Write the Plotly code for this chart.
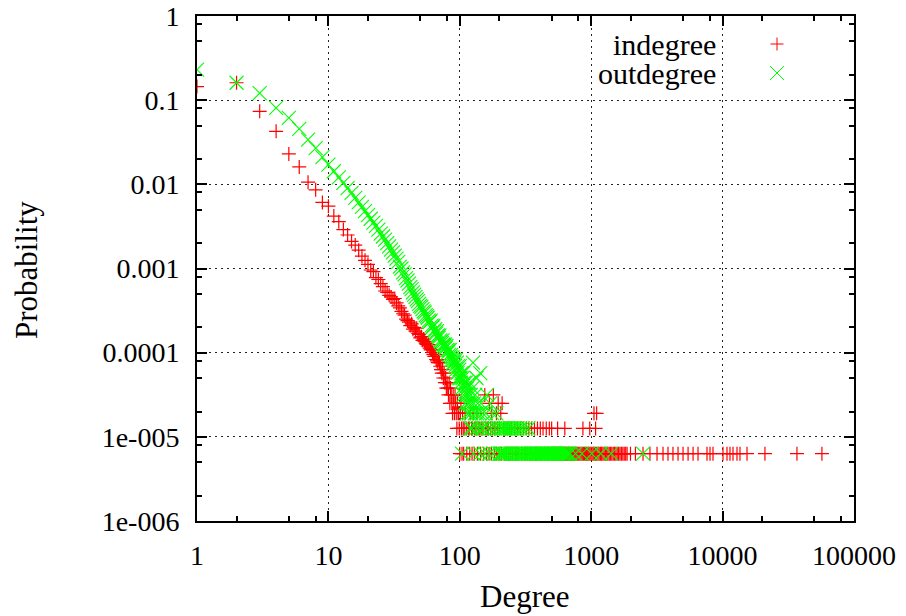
import plotly.graph_objects as go

# ---------------- data ----------------
# indegree: body of the distribution (degree -> probability)
in_deg_body = [1, 2, 3, 4, 5, 6, 7, 8, 9, 10,
               11, 12, 13, 14, 15, 16, 17, 18, 19, 20,
               21, 22, 23, 24, 25, 26, 27, 28, 29, 30,
               31, 32, 33, 34, 35, 36, 37, 38, 39, 40,
               41, 42, 43, 44, 45, 46, 47, 48, 49, 50,
               51, 52, 53, 54, 55, 56, 57, 58, 59, 60,
               61, 62, 63, 64, 65, 66, 67, 68, 69, 70,
               71, 72, 73, 74, 75, 76, 77, 78, 79, 80,
               81, 82, 83, 84, 85, 86, 87, 88, 89, 90,
               91, 92, 93, 94, 96, 97, 98, 101, 102, 105, 110,
               120, 127, 135, 155, 168, 175, 180, 190, 196, 205, 210]
in_p_body = [0.145, 0.161, 0.0736, 0.0426, 0.0230, 0.0161, 0.0106, 0.0086, 0.0061, 0.0055,
             0.0042, 0.0036, 0.0029, 0.0025, 0.0021, 0.0019, 0.00165, 0.00140, 0.00125, 0.00112,
             0.00096, 0.00092, 0.00078, 0.00074, 0.00066, 0.00061, 0.00054, 0.00052, 0.00048, 0.00046,
             0.00043, 0.00044, 0.00039, 0.00036, 0.00034, 0.00031, 0.00029, 0.00028, 0.00025, 0.00024,
             0.00023, 0.00021, 0.00022, 0.00019, 0.00020, 0.00018, 0.000195, 0.00017, 0.000165, 0.00015,
             0.000155, 0.00014, 0.000145, 0.000136, 0.00013, 0.000125, 0.00012, 0.000125, 0.000113, 0.000108,
             0.000109, 0.0001, 0.000095, 0.00009, 0.000095, 0.000083, 0.00008, 0.000076, 0.000083, 0.000076,
             6.9e-5, 6.3e-5, 5.7e-5, 6.3e-5, 5.0e-5, 5.7e-5, 4.4e-5, 5.0e-5, 3.8e-5, 4.4e-5,
             3.8e-5, 3.15e-5, 4.4e-5, 2.5e-5, 3.8e-5, 3.15e-5, 2.5e-5, 1.9e-5, 3.15e-5, 2.5e-5,
             1.9e-5, 3.15e-5, 2.5e-5, 1.9e-5, 2.5e-5, 1.9e-5, 1.9e-5, 1.9e-5, 2.5e-5, 1.9e-5, 1.9e-5,
             1.9e-5, 1.9e-5, 1.9e-5, 3.15e-5, 2.5e-5, 1.9e-5, 3.15e-5, 1.9e-5, 2.5e-5, 1.9e-5, 2.5e-5]

# indegree tail: degrees seen at the 3-count, 2-count and 1-count rows
in_level3 = 1.9e-5
in_deg_level3 = [1050, 1100]
in_level2 = 1.26e-5
in_deg_level2 = [95, 99, 103, 106, 108, 112, 116, 118, 123, 125, 130, 133, 138, 142, 146,
                 150, 158, 162, 165, 172, 178, 185, 193, 200, 215, 222, 230, 240, 248, 262,
                 275, 290, 305, 320, 335, 352, 370, 390, 410, 430, 455, 480, 500, 555, 630,
                 865, 975, 1080]
in_level1 = 6.3e-6
in_deg_level1 = [100, 104, 107, 113, 119, 124, 129, 136, 144, 152, 160, 167, 174, 183, 191,
                 199, 207, 218, 226, 235, 244, 253, 265, 272, 281, 296, 310, 318, 327, 341,
                 348, 361, 377, 385, 398, 415, 423, 441, 462, 470, 492, 503, 515, 523, 533,
                 541, 552, 560, 571, 583, 590, 601, 612, 626, 637, 648, 659, 671, 684, 697,
                 708, 722, 735, 748, 763, 778, 791, 806, 822, 839, 855, 872, 889, 905, 921,
                 940, 958, 977, 996, 1015, 1036, 1058, 1079, 1102, 1126, 1150, 1176, 1201, 1228,
                 1255, 1283, 1312, 1340, 1372, 1404, 1436, 1470, 1504, 1541, 1578, 1617, 1656,
                 1697, 1740, 1784, 1830, 1876, 1990, 2170, 2480, 2800, 3170, 3520, 3840, 4190,
                 4580, 5000, 5460, 5960, 6500, 7610, 8020, 8450, 10070, 10800, 11380, 12000,
                 12870, 13560, 15340, 21000, 36800, 57000]

# outdegree: body of the distribution
out_deg_body = [1, 2, 3, 4, 5, 6, 7, 8, 9, 10,
                11, 12, 13, 14, 15, 16, 17, 18, 19, 20,
                21, 22, 23, 24, 25, 26, 27, 28, 29, 30,
                31, 32, 33, 34, 35, 36, 37, 38, 39, 40,
                41, 42, 43, 44, 45, 46, 47, 48, 49, 50,
                51, 52, 53, 54, 55, 56, 57, 58, 59, 60,
                61, 62, 63, 64, 65, 66, 67, 68, 69, 70,
                71, 72, 73, 74, 75, 76, 77, 78, 79, 80,
                81, 82, 83, 84, 85, 86, 87, 88, 89, 90,
                91, 92, 93, 94, 95, 96, 97, 98, 99, 100,
                101, 102, 103, 104, 105, 106, 107, 108, 109, 110,
                111, 112, 113, 114, 115, 116, 117, 118, 119, 121,
                122, 123, 125, 126, 128, 130, 131, 134, 135, 137,
                141, 143, 145, 149, 158, 161, 170, 177, 190]
out_p_body = [0.23, 0.161, 0.121, 0.081, 0.0615, 0.0455, 0.034, 0.027, 0.021, 0.0171,
              0.0143, 0.0121, 0.0104, 0.0090, 0.0079, 0.0069, 0.0061, 0.0054, 0.0048, 0.0043,
              0.0039, 0.0035, 0.0032, 0.0029, 0.0026, 0.0024, 0.0022, 0.0020, 0.00183, 0.00168,
              0.00155, 0.00142, 0.00131, 0.00120, 0.00105, 0.00100, 0.00090, 0.00085, 0.00077, 0.00072,
              0.00066, 0.00060, 0.00057, 0.00052, 0.00049, 0.00046, 0.00043, 0.00041, 0.00038, 0.00036,
              0.00035, 0.00033, 0.00031, 0.00030, 0.00028, 0.00027, 0.00026, 0.00024, 0.00023, 0.00024,
              0.00021, 0.00020, 0.00021, 0.00018, 0.00019, 0.00017, 0.00018, 0.00016, 0.00015, 0.00016,
              0.00014, 0.000135, 0.00013, 0.00014, 0.000125, 0.00012, 0.000125, 0.000113, 0.00012, 0.000107,
              0.00010, 0.000107, 0.000094, 0.000107, 0.000088, 0.000094, 0.000082, 0.000088, 0.000076, 0.000082,
              7.6e-5, 6.9e-5, 8.2e-5, 6.3e-5, 7.6e-5, 5.7e-5, 6.9e-5, 5.0e-5, 6.3e-5, 6.9e-5,
              5.0e-5, 4.4e-5, 5.7e-5, 3.8e-5, 5.0e-5, 5.7e-5, 3.15e-5, 4.4e-5, 3.8e-5, 2.5e-5,
              4.4e-5, 3.15e-5, 1.9e-5, 3.8e-5, 2.5e-5, 3.15e-5, 1.9e-5, 2.5e-5, 4.4e-5, 3.15e-5,
              1.9e-5, 2.5e-5, 3.8e-5, 7.6e-5, 2.5e-5, 1.9e-5, 3.15e-5, 5.0e-5, 1.9e-5, 2.5e-5,
              1.9e-5, 5.7e-5, 2.5e-5, 1.9e-5, 1.9e-5, 3.15e-5, 2.5e-5, 1.9e-5, 1.9e-5]

# outdegree tail rows
out_level2 = 1.26e-5
out_deg_level2 = [120, 124, 133, 139, 147, 152, 164, 173, 185, 195, 205, 211, 218, 224, 231,
                  239, 247, 256, 264, 275, 288, 300, 316, 333]
out_level1 = 6.3e-6
out_deg_level1 = [104, 127, 143, 155, 167, 181, 200, 203, 208, 214, 221, 228, 235, 243, 251,
                  260, 268, 279, 284, 293, 303, 311, 322, 330, 339, 347, 356, 365, 374, 383,
                  393, 402, 412, 422, 433, 444, 455, 466, 478, 490, 502, 514, 527, 540, 554,
                  567, 581, 596, 611, 626, 642, 658, 674, 691, 760, 850, 1010, 1180, 1420, 2480]

# axis ticks
x_tick_vals = [1, 10, 100, 1000, 10000, 100000]
x_tick_text = ["1", "10", "100", "1000", "10000", "100000"]
y_tick_vals = [1e-6, 1e-5, 1e-4, 1e-3, 1e-2, 1e-1, 1]
y_tick_text = ["1e-006", "1e-005", "0.0001", "0.001", "0.01", "0.1", "1"]
x_minor = [m * 10 ** e for e in range(0, 5) for m in (2, 5, 8)]
y_minor = [m * 10.0 ** e for e in range(-6, 0) for m in (2, 5, 8)]

series_names = ["indegree", "outdegree"]
RED = "#ff0000"
GREEN = "#00ff00"
FONT = "Liberation Serif"

# ---------------- figure ----------------
in_x = in_deg_body + in_deg_level3 + in_deg_level2 + in_deg_level1
in_y = (in_p_body + [in_level3] * len(in_deg_level3) + [in_level2] * len(in_deg_level2)
        + [in_level1] * len(in_deg_level1))
out_x = out_deg_body + out_deg_level2 + out_deg_level1
out_y = out_p_body + [out_level2] * len(out_deg_level2) + [out_level1] * len(out_deg_level1)

fig = go.Figure()
fig.add_trace(go.Scatter(x=in_x, y=in_y, mode="markers", name=series_names[0],
                         marker=dict(symbol="cross-thin", size=10,
                                     line=dict(color=RED, width=1.2), color=RED),
                         showlegend=False))
fig.add_trace(go.Scatter(x=out_x, y=out_y, mode="markers", name=series_names[1],
                         marker=dict(symbol="x-thin", size=14,
                                     line=dict(color=GREEN, width=1.1), color=GREEN),
                         showlegend=False))

W, H = 906, 616
L, T, R, B = 197, 16, 906 - 854, 616 - 521
pw, ph = W - L - R, H - T - B


def px_to_paper(px, py):
    """page pixel -> paper fraction"""
    return (px - L) / pw, (H - B - py) / ph


axis_common = dict(
    type="log", showline=True, linecolor="black", linewidth=2, mirror="allticks",
    ticks="inside", ticklen=10, tickwidth=2, tickcolor="black",
    showgrid=True, gridcolor="#222", gridwidth=1, griddash="2px,4px",
    zeroline=False, automargin=False, ticklabeloverflow="allow",
    tickfont=dict(family=FONT, size=28, color="black"),
)

fig.update_xaxes(range=[0, 5], tickmode="array", tickvals=x_tick_vals, ticktext=x_tick_text,
                 minor=dict(tickvals=x_minor, ticks="inside", ticklen=5, tickwidth=2,
                            tickcolor="black", showgrid=False),
                 ticklabelstandoff=8,
                 **axis_common)
fig.update_yaxes(range=[-6, 0], tickmode="array", tickvals=y_tick_vals, ticktext=y_tick_text,
                 minor=dict(tickvals=y_minor, ticks="inside", ticklen=5, tickwidth=2,
                            tickcolor="black", showgrid=False),
                 ticklabelstandoff=10,
                 **axis_common)

TITLE_SIZE = 31
LEGEND_SIZE = 30
# axis titles
xx, xy = px_to_paper(525, 596)
fig.add_annotation(text="Degree", xref="paper", yref="paper", x=xx, y=xy,
                   showarrow=False, xanchor="center", yanchor="middle",
                   font=dict(family=FONT, size=TITLE_SIZE, color="black"))
yx, yy = px_to_paper(26, 270)
fig.add_annotation(text="Probability", xref="paper", yref="paper", x=yx, y=yy,
                   textangle=-90, showarrow=False, xanchor="center", yanchor="middle",
                   font=dict(family=FONT, size=TITLE_SIZE, color="black"))

# legend (gnuplot style: text right-aligned, sample to the right)
for name, py, color, kind in [(series_names[0], 44, RED, "plus"), (series_names[1], 73, GREEN, "x")]:
    tx, ty = px_to_paper(717, py)
    fig.add_annotation(text=name, xref="paper", yref="paper", x=tx, y=ty, showarrow=False,
                       xanchor="right", yanchor="middle", borderpad=0,
                       font=dict(family=FONT, size=LEGEND_SIZE, color="black"))
    cx, cy = 777, py
    if kind == "plus":
        segs = [((cx - 6.5, cy), (cx + 6.5, cy)), ((cx, cy - 6.5), (cx, cy + 6.5))]
    else:
        segs = [((cx - 7, cy - 7), (cx + 7, cy + 7)), ((cx - 7, cy + 7), (cx + 7, cy - 7))]
    for (ax0, ay0), (ax1, ay1) in segs:
        x0, y0 = px_to_paper(ax0, ay0)
        x1, y1 = px_to_paper(ax1, ay1)
        fig.add_shape(type="line", xref="paper", yref="paper", x0=x0, y0=y0, x1=x1, y1=y1,
                      line=dict(color=color, width=1))

fig.update_layout(width=W, height=H, margin=dict(l=L, r=R, t=T, b=B),
                  paper_bgcolor="white", plot_bgcolor="white",
                  font=dict(family=FONT, color="black"))

# remove the browser's default 8px body margin so the figure sits at the page origin
fig.write_html("out.html", config={"displayModeBar": False},
               post_script="document.body.style.margin='0';")
